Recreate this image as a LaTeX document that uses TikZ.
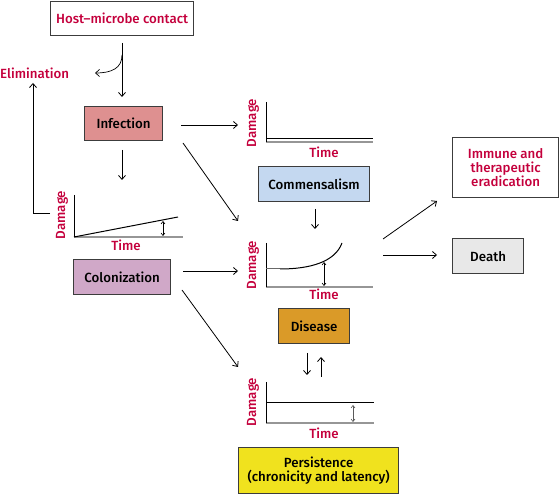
\documentclass[tikz,border=0pt]{standalone}
\usepackage{fontspec}
\setmainfont{Fira Sans}[UprightFont=* Medium]
\usetikzlibrary{arrows.meta}
\definecolor{redtxt}{RGB}{196,0,60}
\definecolor{boxline}{RGB}{60,60,60}
\definecolor{axisgrey}{RGB}{150,150,150}
\definecolor{infill}{RGB}{222,144,144}
\definecolor{colfill}{RGB}{208,168,200}
\definecolor{comfill}{RGB}{196,216,240}
\definecolor{disfill}{RGB}{218,154,40}
\definecolor{deathfill}{RGB}{232,232,232}
\definecolor{perfill}{RGB}{240,226,30}
\tikzset{
  stbox/.style={draw=boxline,line width=1.2pt,font=\fontsize{13.3}{14}\selectfont,inner sep=0pt,anchor=north west,align=center},
  conn/.style={line width=0.8pt,-{Straight Barb[length=4pt,width=7pt]}},
  yaxis/.style={line width=0.8pt,black},
  xaxis/.style={line width=1.2pt,axisgrey},
  curve/.style={line width=1pt,black},
  dbl/.style={line width=0.6pt,{Straight Barb[length=2.5pt,width=4pt]}-{Straight Barb[length=2.5pt,width=4pt]}},
  lbl/.style={text=redtxt,font=\fontsize{13.3}{14}\selectfont,inner sep=0pt},
}
\begin{document}
\begin{tikzpicture}[x=1pt,y=-1pt]
\useasboundingbox (0,0) rectangle (560,494);
% boxes
\node[stbox,minimum width=143pt,minimum height=34pt,text=redtxt] (host) at (50,1) {Host--microbe contact};
\node[stbox,minimum width=78pt,minimum height=34pt,fill=infill] (inf) at (84,106) {Infection};
\node[stbox,minimum width=97pt,minimum height=35pt,fill=colfill] (col) at (73,259) {Colonization};
\node[stbox,minimum width=111pt,minimum height=35pt,fill=comfill] (com) at (258,166) {Commensalism};
\node[stbox,minimum width=71pt,minimum height=35pt,fill=disfill] (dis) at (278,308) {Disease};
\node[stbox,minimum width=160pt,minimum height=46pt,fill=perfill] (per) at (238,447) {Persistence\\(chronicity and latency)};
\node[stbox,minimum width=106pt,minimum height=60pt,text=redtxt] (imm) at (452,137) {Immune and\\therapeutic\\eradication};
\node[stbox,minimum width=71pt,minimum height=35pt,fill=deathfill] (death) at (452,238) {Death};
\node[lbl,anchor=west] (elim) at (0,73) {Elimination};

% coordinates
\coordinate (hostS) at (122,43);
\coordinate (infN) at (122,97);
\coordinate (bend) at (122,55);
\coordinate (elimE) at (95,73);
\coordinate (infS) at (122,150);
\coordinate (g1top) at (122,180);
\coordinate (infE) at (181,125);
\coordinate (g2W) at (238,125);
\coordinate (infSE) at (183,143);
\coordinate (g3NW) at (238,221);
\coordinate (colE) at (183,271);
\coordinate (g3W) at (238,271);
\coordinate (colSE) at (182,290);
\coordinate (g4NW) at (238,367);
\coordinate (comS) at (315,209);
\coordinate (g3N) at (315,229);
\coordinate (g3E1) at (383,239);
\coordinate (g3E2) at (383,255);
\coordinate (immArr) at (437,201);
\coordinate (deathArr) at (437,255);
\coordinate (disS) at (307,353);
\coordinate (g4N1) at (307,375);
\coordinate (g4N2) at (321,377);
\coordinate (disS2) at (321,357);
\coordinate (elimL) at (50,213);
\coordinate (elimC) at (33,213);
\coordinate (elimT) at (33,83);

% connectors
\draw[line width=0.8pt] (hostS) -- (bend);
\draw[conn] (bend) -- (infN);
\draw[conn,line width=0.7pt] (bend) .. controls (122,68) and (112,73) .. (elimE);
\draw[conn] (infS) -- (g1top);
\draw[conn] (infE) -- (g2W);
\draw[conn] (infSE) -- (g3NW);
\draw[conn] (colE) -- (g3W);
\draw[conn] (colSE) -- (g4NW);
\draw[conn] (comS) -- (g3N);
\draw[conn] (g3E1) -- (immArr);
\draw[conn] (g3E2) -- (deathArr);
\draw[conn] (disS) -- (g4N1);
\draw[conn] (g4N2) -- (disS2);
\draw[conn] (elimL) -- (elimC) -- (elimT);

% graph 1 (infection)
\draw[xaxis] (74,237) -- (183,237);
\draw[yaxis] (74,195) -- (74,237);
\draw[curve] (74,237) -- (178,217);
\draw[dbl] (163,221) -- (163,236);
\node[lbl,rotate=90] (d1) at (62,215) {Damage};
\node[lbl] (t1) at (126,245) {Time};

% graph 2 (commensalism)
\draw[xaxis] (266,142) -- (373,142);
\draw[curve] (266,139) -- (373,139);
\draw[yaxis] (266,102) -- (266,142);
\node[lbl,rotate=90] (d2) at (253,123) {Damage};
\node[lbl] (t2) at (324,152) {Time};

% graph 3 (disease)
\draw[xaxis] (266,287) -- (373,287);
\draw[yaxis] (266,243) -- (266,287);
\draw[line width=1pt,axisgrey!70!black] (266,269) -- (280,269);
\draw[curve] (280,269) .. controls (310,269) and (335,262) .. (342,243);
\draw[dbl] (324,262) -- (324,286);
\node[lbl,rotate=90] (d3) at (253,265) {Damage};
\node[lbl] (t3) at (324,294) {Time};

% graph 4 (persistence)
\draw[xaxis] (266,423) -- (374,423);
\draw[yaxis] (266,382) -- (266,423);
\draw[curve] (266,403) -- (374,403);
\draw[dbl,axisgrey!60!black] (353,405) -- (353,422);
\node[lbl,rotate=90] (d4) at (253,402) {Damage};
\node[lbl] (t4) at (324,433) {Time};
\end{tikzpicture}
\end{document}
